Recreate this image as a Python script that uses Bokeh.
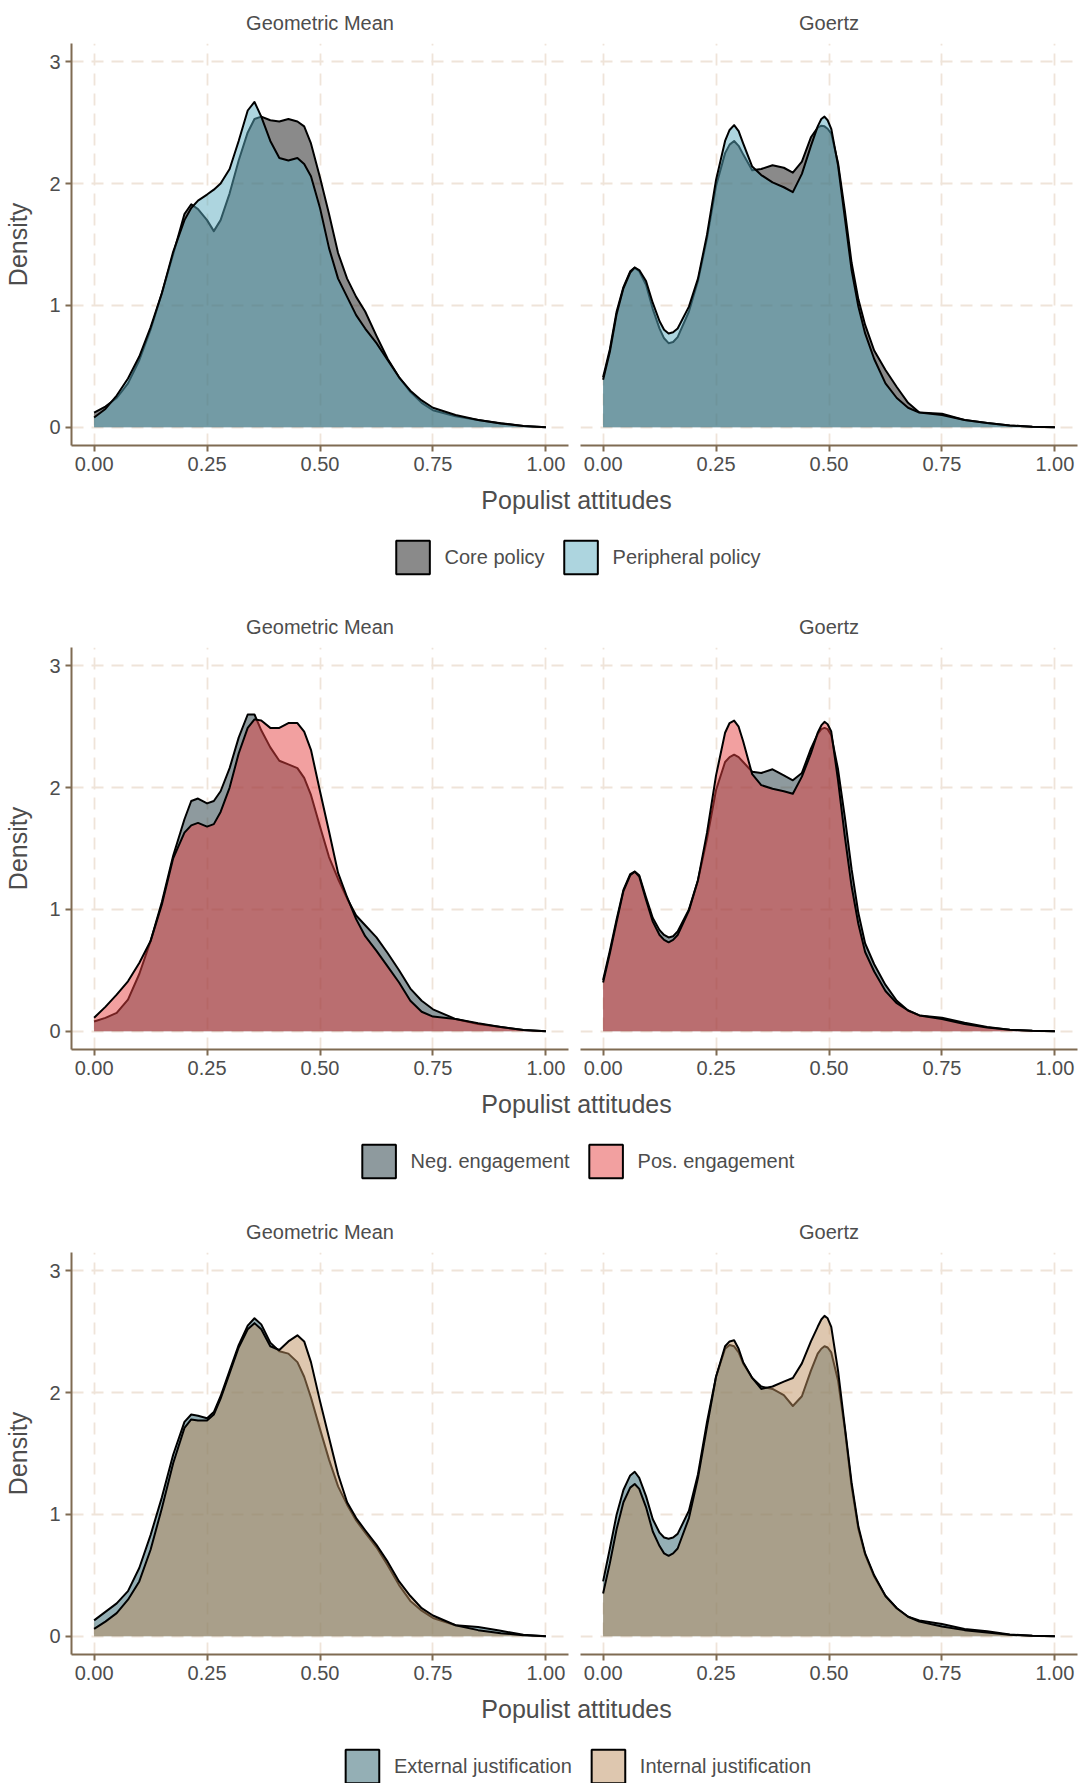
from bokeh.plotting import figure
from bokeh.layouts import column, row
from bokeh.models import (Range1d, FixedTicker, PrintfTickFormatter, Legend, LegendItem,
                          ColumnDataSource, Label, Grid)
from bokeh.embed import file_html
from bokeh.resources import INLINE

# ---------------- data ----------------
PANELS = ["Geometric Mean", "Goertz"]
X_TICKS = [0, 0.25, 0.5, 0.75, 1.0]
Y_TICKS = [0, 1, 2, 3]
X_LABEL = "Populist attitudes"
Y_LABEL = "Density"

X_GM = [0, 0.025, 0.05, 0.075, 0.1, 0.125, 0.15, 0.175, 0.2, 0.215, 0.23, 0.25, 0.265, 0.28,
        0.3, 0.32, 0.34, 0.355, 0.37, 0.39, 0.41, 0.43, 0.45, 0.465, 0.48, 0.5, 0.52, 0.54,
        0.56, 0.58, 0.6, 0.625, 0.65, 0.675, 0.7, 0.725, 0.75, 0.8, 0.85, 0.9, 0.95, 1.0]
X_GZ = [0, 0.015, 0.03, 0.045, 0.06, 0.07, 0.08, 0.095, 0.11, 0.125, 0.135, 0.145, 0.155,
        0.165, 0.19, 0.21, 0.23, 0.25, 0.27, 0.28, 0.29, 0.3, 0.31, 0.33, 0.35, 0.375, 0.4,
        0.42, 0.44, 0.46, 0.475, 0.483, 0.49, 0.497, 0.505, 0.52, 0.535, 0.55, 0.565, 0.58,
        0.6, 0.625, 0.65, 0.675, 0.7, 0.75, 0.8, 0.85, 0.9, 0.95, 1.0]

# Row 1: policy type
ROW1_GROUPS = ["Core policy", "Peripheral policy"]
ROW1_COLORS = ["#151515", "#5BABBF"]
GM_CORE = [0.12, 0.17, 0.24, 0.36, 0.55, 0.8, 1.1, 1.42, 1.75, 1.83, 1.79, 1.7, 1.61, 1.7,
           1.92, 2.19, 2.42, 2.53, 2.55, 2.52, 2.51, 2.53, 2.51, 2.47, 2.33, 2.05, 1.75, 1.43,
           1.22, 1.07, 0.95, 0.75, 0.56, 0.41, 0.29, 0.2, 0.14, 0.09, 0.06, 0.033, 0.01, 0.0]
GM_PERIPHERAL = [0.08, 0.15, 0.26, 0.4, 0.58, 0.82, 1.1, 1.44, 1.7, 1.8, 1.86, 1.91, 1.95, 2.0,
                 2.12, 2.35, 2.6, 2.67, 2.55, 2.35, 2.21, 2.19, 2.21, 2.16, 2.06, 1.8, 1.47, 1.22,
                 1.07, 0.92, 0.81, 0.69, 0.55, 0.41, 0.3, 0.22, 0.16, 0.1, 0.06, 0.03, 0.01, 0.0]
GZ_CORE = [0.41, 0.64, 0.95, 1.15, 1.28, 1.31, 1.28, 1.17, 0.97, 0.81, 0.73, 0.69, 0.7,
           0.74, 0.95, 1.2, 1.55, 1.98, 2.25, 2.32, 2.35, 2.31, 2.24, 2.11, 2.12, 2.15, 2.13,
           2.09, 2.18, 2.38, 2.46, 2.475, 2.47, 2.45, 2.41, 2.17, 1.78, 1.35, 1.05, 0.84,
           0.63, 0.47, 0.33, 0.2, 0.12, 0.11, 0.06, 0.035, 0.015, 0.004, 0.0]
GZ_PERIPHERAL = [0.39, 0.62, 0.93, 1.14, 1.27, 1.31, 1.29, 1.2, 1.02, 0.87, 0.8, 0.77, 0.78,
                 0.81, 0.99, 1.22, 1.58, 2.03, 2.35, 2.44, 2.48, 2.43, 2.33, 2.14, 2.07, 2.01,
                 1.97, 1.93, 2.08, 2.31, 2.47, 2.53, 2.55, 2.52, 2.45, 2.15, 1.72, 1.29, 0.99,
                 0.77, 0.56, 0.36, 0.24, 0.16, 0.12, 0.1, 0.06, 0.035, 0.015, 0.004, 0.0]

# Row 2: engagement
ROW2_GROUPS = ["Neg. engagement", "Pos. engagement"]
ROW2_COLORS = ["#1D353D", "#E54141"]
GM_NEG = [0.08, 0.11, 0.15, 0.26, 0.47, 0.74, 1.06, 1.44, 1.74, 1.89, 1.91, 1.87, 1.89, 1.97,
          2.16, 2.41, 2.6, 2.6, 2.47, 2.33, 2.22, 2.19, 2.16, 2.08, 1.94, 1.68, 1.43, 1.25,
          1.09, 0.95, 0.87, 0.77, 0.64, 0.5, 0.35, 0.25, 0.18, 0.1, 0.06, 0.035, 0.01, 0.0]
GM_POS = [0.11, 0.2, 0.3, 0.41, 0.56, 0.74, 1.04, 1.42, 1.63, 1.69, 1.71, 1.68, 1.7, 1.8,
          2.0, 2.28, 2.49, 2.56, 2.55, 2.49, 2.49, 2.53, 2.53, 2.46, 2.31, 1.97, 1.64, 1.3,
          1.1, 0.92, 0.78, 0.66, 0.53, 0.4, 0.25, 0.16, 0.12, 0.1, 0.065, 0.035, 0.01, 0.0]
GZ_NEG = [0.42, 0.66, 0.92, 1.16, 1.29, 1.31, 1.28, 1.1, 0.93, 0.83, 0.79, 0.77, 0.78,
          0.82, 1.0, 1.24, 1.58, 1.98, 2.21, 2.25, 2.27, 2.25, 2.21, 2.13, 2.12, 2.15, 2.1,
          2.06, 2.12, 2.32, 2.44, 2.48, 2.49, 2.48, 2.43, 2.15, 1.76, 1.33, 0.97, 0.72,
          0.55, 0.38, 0.25, 0.17, 0.13, 0.11, 0.07, 0.035, 0.013, 0.003, 0.0]
GZ_POS = [0.4, 0.64, 0.9, 1.15, 1.28, 1.31, 1.27, 1.08, 0.9, 0.79, 0.75, 0.73, 0.75,
          0.79, 0.99, 1.24, 1.63, 2.1, 2.45, 2.53, 2.55, 2.5, 2.38, 2.11, 2.02, 1.99, 1.97,
          1.95, 2.09, 2.28, 2.45, 2.51, 2.54, 2.52, 2.46, 2.06, 1.6, 1.19, 0.88, 0.65,
          0.49, 0.33, 0.23, 0.17, 0.13, 0.1, 0.06, 0.03, 0.012, 0.003, 0.0]

# Row 3: justification
ROW3_GROUPS = ["External justification", "Internal justification"]
ROW3_COLORS = ["#295F6B", "#BD8F5F"]
GM_EXT = [0.13, 0.2, 0.27, 0.37, 0.56, 0.83, 1.14, 1.49, 1.76, 1.82, 1.81, 1.79, 1.84, 1.97,
          2.18, 2.39, 2.55, 2.61, 2.56, 2.41, 2.34, 2.32, 2.25, 2.13, 1.96, 1.7, 1.45, 1.23,
          1.08, 0.95, 0.85, 0.73, 0.58, 0.42, 0.29, 0.21, 0.15, 0.09, 0.075, 0.045, 0.012, 0.0]
GM_INT = [0.06, 0.12, 0.19, 0.3, 0.45, 0.71, 1.05, 1.42, 1.71, 1.78, 1.77, 1.77, 1.82, 1.95,
          2.16, 2.37, 2.52, 2.57, 2.52, 2.38, 2.35, 2.42, 2.47, 2.42, 2.25, 1.93, 1.63, 1.33,
          1.1, 0.97, 0.87, 0.75, 0.61, 0.45, 0.33, 0.23, 0.17, 0.09, 0.05, 0.025, 0.008, 0.0]
GZ_EXT = [0.45, 0.72, 1.0, 1.2, 1.32, 1.35, 1.3, 1.15, 0.96, 0.85, 0.81, 0.8, 0.81,
          0.84, 1.03, 1.33, 1.76, 2.13, 2.36, 2.39, 2.38, 2.33, 2.24, 2.12, 2.05, 2.03, 1.98,
          1.89, 1.97, 2.18, 2.32, 2.36, 2.38, 2.37, 2.33, 2.1, 1.7, 1.23, 0.88, 0.67,
          0.49, 0.33, 0.23, 0.16, 0.13, 0.1, 0.06, 0.04, 0.015, 0.004, 0.0]
GZ_INT = [0.35, 0.6, 0.88, 1.1, 1.22, 1.25, 1.21, 1.06, 0.86, 0.74, 0.68, 0.66, 0.68,
          0.72, 0.97, 1.3, 1.72, 2.13, 2.38, 2.42, 2.43, 2.36, 2.25, 2.12, 2.03, 2.05, 2.09,
          2.12, 2.24, 2.42, 2.54, 2.6, 2.63, 2.61, 2.54, 2.18, 1.72, 1.26, 0.9, 0.68,
          0.5, 0.33, 0.23, 0.16, 0.12, 0.08, 0.05, 0.03, 0.012, 0.003, 0.0]

# ---------------- style ----------------
FONT = "Liberation Sans"
TXT = "#4D4D4D"
AXIS_COLOR = "#7F6B52"
GRID_COLOR = "#EFE4D9"
FILL_ALPHA = 0.5

PANEL_H = 481
LEFT_W = 574
RIGHT_W = 507
TOTAL_W = LEFT_W + RIGHT_W
LEFT_BORDER = 71


def style_axis(ax, ticks, fmt=None):
    ax.ticker = FixedTicker(ticks=ticks)
    if fmt:
        ax.formatter = PrintfTickFormatter(format=fmt)
    ax.axis_line_color = AXIS_COLOR
    ax.axis_line_width = 2
    ax.major_tick_line_color = AXIS_COLOR
    ax.major_tick_line_width = 2
    ax.major_tick_out = 6
    ax.major_tick_in = 0
    ax.minor_tick_line_color = None
    ax.major_label_text_font = FONT
    ax.major_label_text_font_size = "20px"
    ax.major_label_text_color = TXT
    ax.axis_label_text_font = FONT
    ax.axis_label_text_font_size = "25px"
    ax.axis_label_text_font_style = "normal"
    ax.axis_label_text_color = TXT


def make_panel(title, xs, series, colors, with_y):
    p = figure(width=LEFT_W if with_y else RIGHT_W, height=PANEL_H,
               x_range=Range1d(-0.05, 1.05), y_range=Range1d(-0.15, 3.15),
               output_backend="svg", toolbar_location=None,
               y_axis_location="left" if with_y else None,
               min_border_left=LEFT_BORDER if with_y else 6,
               min_border_right=6 if with_y else 4,
               min_border_top=42, min_border_bottom=36)
    p.outline_line_color = None
    p.background_fill_color = "white"
    p.border_fill_color = "white"
    p.title.text = title
    p.title.align = "center"
    p.title.text_font = FONT
    p.title.text_font_size = "20px"
    p.title.text_font_style = "normal"
    p.title.text_color = TXT
    p.title.standoff = 19

    if len(p.ygrid) == 0:
        p.add_layout(Grid(dimension=1, ticker=FixedTicker(ticks=Y_TICKS)), "center")
    for g in list(p.xgrid) + list(p.ygrid):
        g.ticker = FixedTicker(ticks=X_TICKS if g.dimension == 0 else Y_TICKS)
        g.grid_line_color = GRID_COLOR
        g.grid_line_width = 1.8
        g.grid_line_dash = "12 8"
        g.minor_grid_line_color = None

    for ys, c in zip(series, colors):
        src = ColumnDataSource(dict(x=xs, y=ys))
        p.varea(x="x", y1=0, y2="y", source=src, fill_color=c, fill_alpha=FILL_ALPHA)
        p.line(x="x", y="y", source=src, line_color="black", line_width=2, line_join="round")

    xa = p.xaxis[0]
    style_axis(xa, X_TICKS, "%.2f")
    xa.major_label_standoff = 5
    if with_y:
        ya = p.yaxis[0]
        style_axis(ya, Y_TICKS)
        ya.axis_label = Y_LABEL
        ya.major_label_standoff = 5
        ya.axis_label_standoff = 14
    return p


def make_legend(groups, colors, height):
    p = figure(width=TOTAL_W, height=height, x_range=Range1d(0, 1), y_range=Range1d(0, height),
               output_backend="svg", toolbar_location=None,
               x_axis_location=None, y_axis_location=None,
               min_border_left=LEFT_BORDER, min_border_right=0,
               min_border_top=0, min_border_bottom=0)
    p.outline_line_color = None
    p.grid.visible = False
    items = []
    for g, c in zip(groups, colors):
        # placeholder key glyph, kept outside the visible range: only the legend shows it
        src = ColumnDataSource(dict(l=[-3.0], r=[-2.0], t=[-2.0], b=[-3.0]))
        r = p.quad(left="l", right="r", top="t", bottom="b", source=src,
                   fill_color=c, fill_alpha=FILL_ALPHA, line_color="black", line_width=2)
        items.append(LegendItem(label=g, renderers=[r]))
    leg = Legend(items=items, orientation="horizontal", location="top_center",
                 margin=55, padding=0, spacing=15, glyph_width=42, glyph_height=42,
                 label_standoff=11, border_line_color=None, background_fill_alpha=0,
                 label_text_font=FONT, label_text_font_size="20px", label_text_color=TXT)
    p.add_layout(leg, "center")
    p.add_layout(Label(x=0.5, y=height - 18, text=X_LABEL, text_align="center",
                       text_baseline="middle", text_font=FONT, text_font_size="25px",
                       text_color=TXT))
    return p


rows_spec = [
    (ROW1_GROUPS, ROW1_COLORS, [GM_CORE, GM_PERIPHERAL], [GZ_CORE, GZ_PERIPHERAL], 123),
    (ROW2_GROUPS, ROW2_COLORS, [GM_NEG, GM_POS], [GZ_NEG, GZ_POS], 124),
    (ROW3_GROUPS, ROW3_COLORS, [GM_EXT, GM_INT], [GZ_EXT, GZ_INT], 93),
]

blocks = []
for groups, colors, gm, gz, leg_h in rows_spec:
    left = make_panel(PANELS[0], X_GM, gm, colors, True)
    right = make_panel(PANELS[1], X_GZ, gz, colors, False)
    blocks.append(column(row(left, right), make_legend(groups, colors, leg_h)))

layout = column(*blocks)
open("out.html", "w").write(file_html(layout, INLINE))
